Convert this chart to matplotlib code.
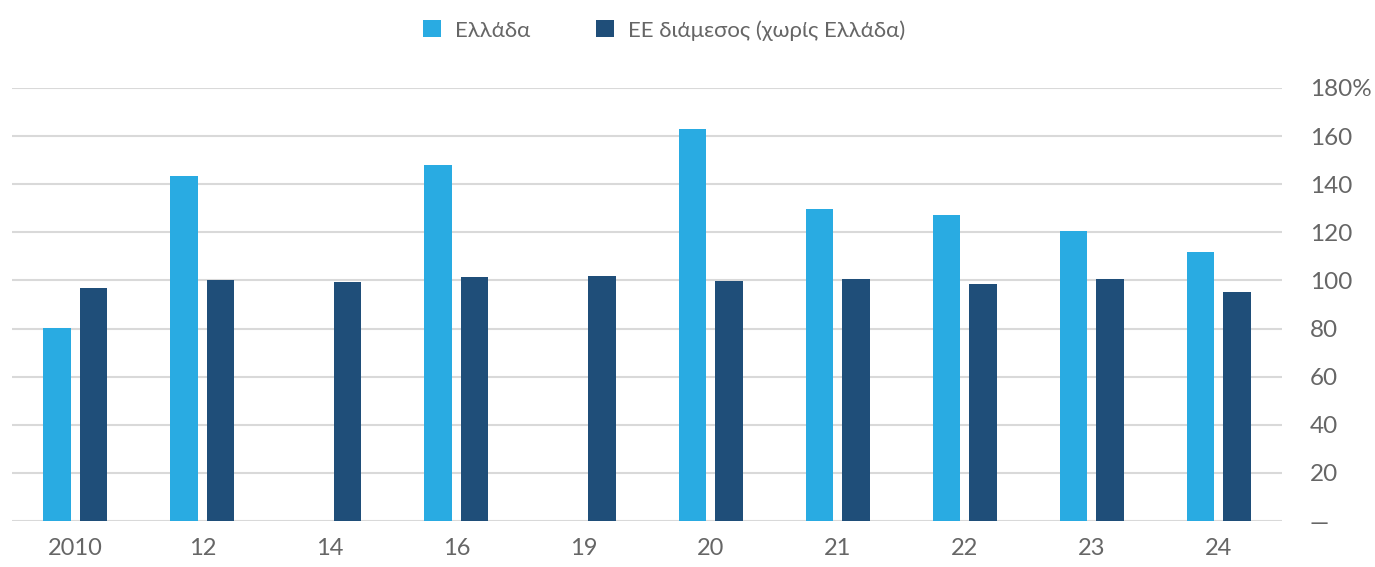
import numpy as np
import matplotlib.pyplot as plt
from matplotlib.ticker import FixedLocator, FixedFormatter

years = ['2010', '12', '14', '16', '19', '20', '21', '22', '23', '24']
greece = [80.2, 143.4, np.nan, 148.0, np.nan, 163.0, 129.7, 127.2, 120.5, 111.8]
eu_median = [96.8, 100.2, 99.5, 101.4, 102.0, 99.8, 100.8, 98.7, 100.4, 95.4]
series_names = ['Ελλάδα', 'ΕΕ διάμεσος (χωρίς Ελλάδα)']

plt.rcParams['font.family'] = ['Lato', 'DejaVu Sans']
grey = '#666666'
c_gr = '#29ABE2'
c_eu = '#1F4E79'

fig = plt.figure(figsize=(13.75, 5.67), dpi=100)
ax = fig.add_axes([0.0087, 0.0811, 0.9237, 0.7637])

x = np.arange(len(years))
w = 0.22
off = 0.142
ax.bar(x - off, greece, w, color=c_gr, label=series_names[0], zorder=3)
ax.bar(x + off, eu_median, w, color=c_eu, label=series_names[1], zorder=3)

ax.set_xlim(-0.5, len(years) - 0.5)
ax.set_ylim(0, 180)
ax.yaxis.tick_right()
ticks = list(range(0, 181, 20))
ax.yaxis.set_major_locator(FixedLocator(ticks))
ax.yaxis.set_major_formatter(FixedFormatter(['—'] + [str(t) for t in ticks[1:-1]] + ['180%']))
ax.grid(axis='y', color='#d9d9d9', linewidth=1.5, zorder=0)
ax.set_xticks(x)
ax.set_xticklabels(years)
ax.tick_params(axis='y', length=0, pad=20, labelsize=17.5, labelcolor=grey)
ax.tick_params(axis='x', length=0, pad=12, labelsize=17, labelcolor=grey)
for s in ax.spines.values():
    s.set_visible(False)

fig.legend(loc='upper center', bbox_to_anchor=(0.483, 1.0), ncol=2, frameon=False,
           fontsize=16, labelcolor=grey, handlelength=0.8, handleheight=0.8,
           handletextpad=0.6, columnspacing=3.0)

fig.savefig('out.png', dpi=100)
